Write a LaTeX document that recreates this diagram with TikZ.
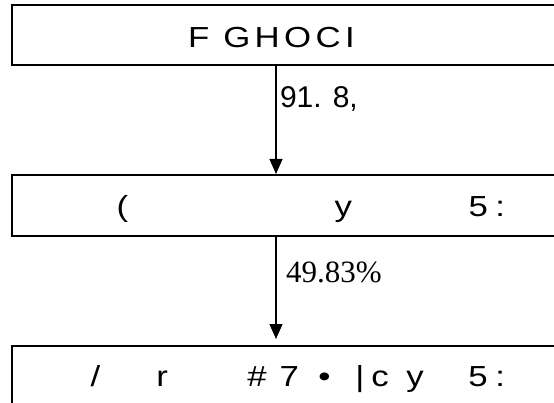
\documentclass[tikz,border=0pt]{standalone}
\usepackage{fontspec}
\setmainfont{Liberation Serif}
\newfontfamily\boxfont[FakeStretch=1.2]{Liberation Sans}
\newfontfamily\boxfontwide[FakeStretch=1.2,LetterSpace=15]{Liberation Sans}
\newfontfamily\ratefont{Liberation Sans}
\usetikzlibrary{arrows.meta,positioning}
\newcommand{\glyphat}[2]{\makebox[0pt][l]{\hspace*{#1}#2}}

\begin{document}
\begin{tikzpicture}[x=1pt,y=-1pt,
    every node/.style={inner sep=0pt,outer sep=0pt},
    level/.style={draw,line width=2pt,minimum width=620pt,anchor=north west},
    boxtext/.style={font=\boxfont\fontsize{29}{29}\selectfont,anchor=base west},
    flow/.style={line width=1.2pt,-{Triangle[width=13pt,length=15pt]}},
    rate/.style={anchor=base west}]
  \useasboundingbox (0,0) rectangle (554,403);
  \clip (0,0) rectangle (554,403);

  % the three levels
  \node[level,minimum height=60pt] (top)    at (12,5)   {};
  \node[level,minimum height=61pt] (middle) at (12,175) {};
  \node[level,minimum height=61pt] (bottom) at (12,346) {};

  \node[boxtext,font=\boxfontwide\fontsize{29}{29}\selectfont] (toptext) at (188,48) {F GHOCI};
  \node[boxtext] (midtext) at (116,217)
    {\glyphat{0pt}{(}\glyphat{218pt}{y}\glyphat{352pt}{5}\glyphat{379pt}{:}};
  \node[boxtext] (bottext) at (90,386)
    {\glyphat{0pt}{/}\glyphat{66pt}{r}\glyphat{157pt}{\#}\glyphat{189pt}{7}\glyphat{228pt}{•}%
     \glyphat{265pt}{|}\glyphat{281pt}{c}\glyphat{316pt}{y}\glyphat{378pt}{5}\glyphat{405pt}{:}};

  % arrows between levels
  \coordinate (axis) at (276,0);
  \draw[flow,shorten >=1pt] (top.south -| axis) -- (middle.north -| axis);
  \draw[flow,shorten >=7pt] (middle.south -| axis) -- (bottom.north -| axis);

  \node[rate,font=\ratefont\fontsize{30}{30}\selectfont] (rate1) at (280,108) {91. 8,};
  \node[rate,font=\fontsize{31}{31}\selectfont] (rate2) at (286,283) {49.83\%};
\end{tikzpicture}
\end{document}
